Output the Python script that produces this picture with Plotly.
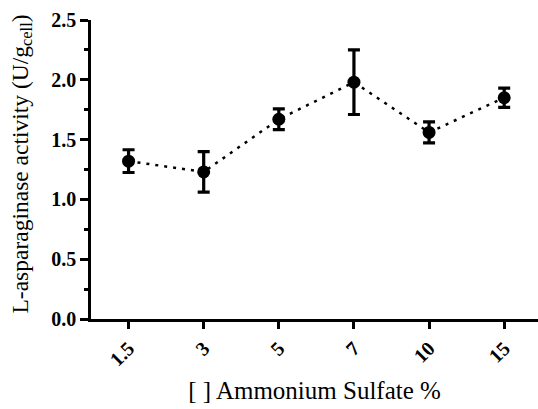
import plotly.graph_objects as go

categories = ["1.5", "3", "5", "7", "10", "15"]
activity = [1.32, 1.23, 1.67, 1.98, 1.56, 1.85]
error = [0.095, 0.17, 0.087, 0.27, 0.088, 0.08]
y_ticks = [0.0, 0.5, 1.0, 1.5, 2.0, 2.5]
y_tick_labels = ["0.0", "0.5", "1.0", "1.5", "2.0", "2.5"]
y_title = "L-asparaginase activity (U/g<sub>cell</sub>)"
x_title = "[ ] Ammonium Sulfate %"

fig = go.Figure()
fig.add_trace(go.Scatter(
    x=list(range(len(categories))), y=activity,
    mode="lines+markers",
    line=dict(color="black", width=2.5, dash="3px,6px"),
    marker=dict(color="black", size=13, symbol="circle"),
    error_y=dict(type="data", array=error, visible=True, color="black",
                 thickness=3.2, width=6),
    showlegend=False,
))

font_serif = "Liberation Serif"
fig.update_layout(
    width=538, height=409,
    margin=dict(l=91, r=0, t=20, b=90),
    paper_bgcolor="white", plot_bgcolor="white",
    font=dict(family=font_serif, color="black"),
    xaxis=dict(
        range=[-0.5, 5.45],
        tickmode="array", tickvals=list(range(len(categories))), ticktext=categories,
        tickangle=-45,
        tickfont=dict(family=font_serif, size=20, color="black", weight="bold"),
        showline=True, linecolor="black", linewidth=2.5,
        ticks="outside", ticklen=7, tickwidth=2.5, tickcolor="black",
        showgrid=False, zeroline=False,
        title=dict(text=x_title, font=dict(family=font_serif, size=25), standoff=13),
    ),
    yaxis=dict(
        range=[0, 2.5],
        tickmode="array", tickvals=y_ticks, ticktext=y_tick_labels,
        tickfont=dict(family=font_serif, size=20, color="black", weight="bold"),
        showline=True, linecolor="black", linewidth=2.5,
        ticks="outside", ticklen=8, tickwidth=2.5, tickcolor="black",
        minor=dict(dtick=0.25, ticks="outside", ticklen=4, tickwidth=2.5, tickcolor="black", showgrid=False),
        showgrid=False, zeroline=False,
    ),
    annotations=[dict(
        text=y_title, textangle=-90, showarrow=False,
        xref="paper", yref="paper", x=0, y=0.5,
        xanchor="center", yanchor="middle", xshift=-70, yshift=5,
        font=dict(family=font_serif, size=23.5, color="black"),
    )],
)

fig.write_html("out.html", config={"displayModeBar": False},
               post_script="document.body.style.margin='0';document.body.style.overflow='hidden';")
